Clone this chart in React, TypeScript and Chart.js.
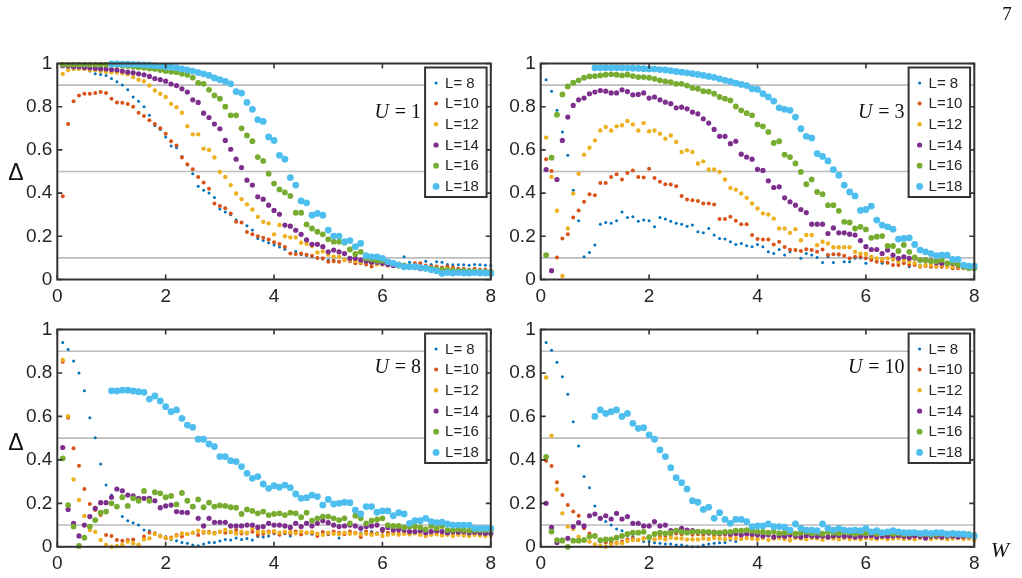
import { useEffect, useRef } from "react";
import { Chart, registerables } from "chart.js";

Chart.register(...registerables);

// Disorder strength W (x axis)
const W = [
  0.1, 0.2, 0.3, 0.4, 0.5, 0.6, 0.7, 0.8, 0.9, 1.0,
  1.1, 1.2, 1.3, 1.4, 1.5, 1.6, 1.7, 1.8, 1.9, 2.0,
  2.1, 2.2, 2.3, 2.4, 2.5, 2.6, 2.7, 2.8, 2.9, 3.0,
  3.1, 3.2, 3.3, 3.4, 3.5, 3.6, 3.7, 3.8, 3.9, 4.0,
  4.1, 4.2, 4.3, 4.4, 4.5, 4.6, 4.7, 4.8, 4.9, 5.0,
  5.1, 5.2, 5.3, 5.4, 5.5, 5.6, 5.7, 5.8, 5.9, 6.0,
  6.1, 6.2, 6.3, 6.4, 6.5, 6.6, 6.7, 6.8, 6.9, 7.0,
  7.1, 7.2, 7.3, 7.4, 7.5, 7.6, 7.7, 7.8, 7.9, 8.0,
];

const SIZES = ["L= 8", "L=10", "L=12", "L=14", "L=16", "L=18"];
const COLORS = ["#0072BD", "#D95319", "#EDB120", "#7E2F8E", "#77AC30", "#4DBEEE"];
const RADII = [1.5, 2, 2.2, 2.6, 2.9, 3.4];
const THRESHOLDS = [0.1, 0.5, 0.9];
const X_TICKS = [0, 2, 4, 6, 8];
const Y_TICKS = [0, 0.2, 0.4, 0.6, 0.8, 1];

// ---- U = 1 ----
const u1_L8 = [
  0.99, 0.988, 0.985, 0.98, 0.975, 0.965, 0.952, 0.949, 0.944, 0.93,
  0.915, 0.9, 0.878, 0.845, 0.825, 0.8, 0.76, 0.713, 0.695, 0.66,
  0.618, 0.61, 0.57, 0.53, 0.49, 0.432, 0.413, 0.4, 0.38, 0.326,
  0.313, 0.3, 0.275, 0.265, 0.249, 0.229, 0.19, 0.18, 0.17, 0.16,
  0.15, 0.14, 0.12, 0.13, 0.115, 0.11, 0.105, 0.1, 0.095, 0.09,
  0.092, 0.085, 0.09, 0.085, 0.08, 0.085, 0.09, 0.09, 0.095, 0.09,
  0.085, 0.08, 0.075, 0.105, 0.08, 0.075, 0.07, 0.085, 0.07, 0.082,
  0.08, 0.07, 0.068, 0.068, 0.068, 0.066, 0.07, 0.068, 0.066, 0.065,
];
const u1_L10 = [
  0.385, 0.72, 0.825, 0.852, 0.86, 0.86, 0.863, 0.868, 0.863, 0.837,
  0.82, 0.818, 0.813, 0.8, 0.772, 0.757, 0.737, 0.72, 0.7, 0.675,
  0.64, 0.62, 0.565, 0.533, 0.51, 0.475, 0.449, 0.42, 0.352, 0.34,
  0.33, 0.306, 0.267, 0.264, 0.22, 0.209, 0.2, 0.193, 0.185, 0.173,
  0.164, 0.15, 0.12, 0.118, 0.12, 0.115, 0.11, 0.1, 0.098, 0.082,
  0.085, 0.082, 0.09, 0.085, 0.075, 0.075, 0.07, 0.06, 0.08, 0.075,
  0.075, 0.07, 0.07, 0.06, 0.06, 0.075, 0.075, 0.065, 0.06, 0.06,
  0.055, 0.06, 0.055, 0.05, 0.05, 0.045, 0.05, 0.045, 0.045, 0.04,
];
const u1_L12 = [
  0.952, 0.97, 0.975, 0.975, 0.975, 0.97, 0.97, 0.965, 0.962, 0.96,
  0.958, 0.955, 0.95, 0.937, 0.925, 0.918, 0.898, 0.875, 0.86, 0.845,
  0.813, 0.798, 0.772, 0.71, 0.672, 0.672, 0.606, 0.6, 0.565, 0.498,
  0.475, 0.437, 0.398, 0.372, 0.348, 0.324, 0.29, 0.267, 0.26, 0.209,
  0.252, 0.2, 0.195, 0.195, 0.17, 0.165, 0.155, 0.125, 0.13, 0.115,
  0.105, 0.105, 0.09, 0.09, 0.085, 0.08, 0.08, 0.075, 0.07, 0.07,
  0.065, 0.065, 0.06, 0.06, 0.055, 0.055, 0.05, 0.05, 0.05, 0.05,
  0.045, 0.045, 0.045, 0.04, 0.04, 0.04, 0.04, 0.04, 0.035, 0.035,
];
const u1_L14 = [
  0.99, 0.988, 0.985, 0.985, 0.982, 0.98, 0.978, 0.976, 0.975, 0.972,
  0.97, 0.965, 0.96, 0.957, 0.952, 0.948, 0.94, 0.93, 0.925, 0.918,
  0.905, 0.898, 0.883, 0.868, 0.832, 0.82, 0.77, 0.75, 0.72, 0.698,
  0.644, 0.603, 0.557, 0.518, 0.46, 0.437, 0.383, 0.372, 0.344, 0.32,
  0.302, 0.252, 0.247, 0.228, 0.209, 0.183, 0.163, 0.163, 0.152, 0.128,
  0.136, 0.128, 0.12, 0.098, 0.098, 0.09, 0.085, 0.08, 0.08, 0.075,
  0.07, 0.065, 0.065, 0.06, 0.06, 0.055, 0.05, 0.05, 0.05, 0.045,
  0.045, 0.04, 0.04, 0.04, 0.038, 0.038, 0.036, 0.036, 0.035, 0.035,
];
const u1_L16 = [
  0.995, 0.995, 0.995, 0.995, 0.995, 0.995, 0.995, 0.995, 0.995, 0.995,
  0.993, 0.99, 0.988, 0.985, 0.983, 0.98, 0.977, 0.975, 0.97, 0.965,
  0.962, 0.96, 0.952, 0.948, 0.935, 0.91, 0.906, 0.878, 0.852, 0.837,
  0.8, 0.76, 0.76, 0.7, 0.667, 0.64, 0.567, 0.549, 0.49, 0.444,
  0.417, 0.403, 0.387, 0.309, 0.309, 0.255, 0.236, 0.221, 0.209, 0.186,
  0.175, 0.175, 0.17, 0.139, 0.118, 0.128, 0.098, 0.093, 0.087, 0.087,
  0.08, 0.075, 0.07, 0.065, 0.062, 0.06, 0.055, 0.052, 0.05, 0.048,
  0.045, 0.045, 0.042, 0.04, 0.04, 0.038, 0.038, 0.036, 0.035, 0.035,
];
const u1_L18 = [
  0.998, 0.998, 0.997, 0.997, 0.996, 0.995, 0.994, 0.992, 0.99, 0.988, 0.985,
  0.983, 0.98, 0.975, 0.97, 0.965, 0.958, 0.952, 0.945, 0.933, 0.925,
  0.917, 0.906, 0.87, 0.863, 0.82, 0.788, 0.74, 0.732, 0.66, 0.644,
  0.575, 0.557, 0.472, 0.437, 0.364, 0.355, 0.298, 0.306, 0.298, 0.229,
  0.201, 0.201, 0.175, 0.18, 0.152, 0.167, 0.11, 0.105, 0.105, 0.098,
  0.082, 0.075, 0.067, 0.059, 0.059, 0.059, 0.055, 0.052, 0.045, 0.04,
  0.028, 0.032, 0.03, 0.032, 0.03, 0.03, 0.032, 0.03, 0.03, 0.028,
];

// ---- U = 3 ----
const u3_L8 = [
  0.925, 0.872, 0.783, 0.683, 0.575, 0.413, 0.272, 0.105, 0.125, 0.16,
  0.256, 0.264, 0.26, 0.272, 0.313, 0.287, 0.29, 0.27, 0.275, 0.272,
  0.244, 0.287, 0.28, 0.27, 0.26, 0.256, 0.247, 0.252, 0.221, 0.216,
  0.236, 0.206, 0.19, 0.187, 0.175, 0.162, 0.167, 0.156, 0.152, 0.162,
  0.152, 0.128, 0.12, 0.139, 0.113, 0.128, 0.136, 0.098, 0.12, 0.113,
  0.102, 0.079, 0.105, 0.079, 0.113, 0.082, 0.082, 0.098, 0.1, 0.075,
  0.098, 0.09, 0.075, 0.098, 0.09, 0.075, 0.093, 0.059, 0.075, 0.067,
  0.075, 0.075, 0.067, 0.075, 0.067, 0.059, 0.062, 0.059, 0.062, 0.056,
];
const u3_L10 = [
  0.557, 0.502, 0.102, 0.19, 0.21, 0.287, 0.32, 0.36, 0.395, 0.39,
  0.447, 0.447, 0.475, 0.487, 0.463, 0.493, 0.505, 0.475, 0.472, 0.513,
  0.47, 0.452, 0.441, 0.44, 0.432, 0.387, 0.37, 0.367, 0.364, 0.352,
  0.352, 0.347, 0.28, 0.28, 0.29, 0.272, 0.256, 0.256, 0.206, 0.187,
  0.185, 0.185, 0.162, 0.175, 0.15, 0.138, 0.136, 0.132, 0.14, 0.136,
  0.128, 0.139, 0.113, 0.117, 0.117, 0.11, 0.098, 0.105, 0.105, 0.098,
  0.09, 0.082, 0.085, 0.078, 0.067, 0.067, 0.075, 0.067, 0.067, 0.059,
  0.062, 0.059, 0.059, 0.059, 0.059, 0.052, 0.052, 0.052, 0.052, 0.047,
];
const u3_L12 = [
  0.657, 0.475, 0.318, 0.016, 0.236, 0.398, 0.49, 0.578, 0.61, 0.644,
  0.69, 0.706, 0.69, 0.709, 0.714, 0.734, 0.718, 0.69, 0.724, 0.686,
  0.69, 0.675, 0.652, 0.667, 0.637, 0.59, 0.598, 0.59, 0.537, 0.547,
  0.509, 0.509, 0.498, 0.463, 0.424, 0.416, 0.398, 0.378, 0.352, 0.329,
  0.306, 0.301, 0.282, 0.236, 0.236, 0.216, 0.233, 0.182, 0.206, 0.206,
  0.159, 0.175, 0.167, 0.149, 0.149, 0.149, 0.149, 0.128, 0.12, 0.118,
  0.105, 0.098, 0.093, 0.098, 0.093, 0.082, 0.09, 0.082, 0.075, 0.062,
  0.067, 0.067, 0.062, 0.067, 0.059, 0.059, 0.059, 0.059, 0.056, 0.056,
];
const u3_L14 = [
  0.509, 0.041, 0.463, 0.644, 0.752, 0.806, 0.832, 0.84, 0.86, 0.868,
  0.875, 0.872, 0.864, 0.864, 0.878, 0.87, 0.855, 0.857, 0.864, 0.84,
  0.845, 0.832, 0.821, 0.814, 0.795, 0.798, 0.79, 0.775, 0.767, 0.744,
  0.724, 0.695, 0.663, 0.663, 0.629, 0.64, 0.58, 0.567, 0.557, 0.51,
  0.505, 0.457, 0.426, 0.429, 0.378, 0.36, 0.344, 0.324, 0.31, 0.256,
  0.256, 0.256, 0.213, 0.239, 0.216, 0.216, 0.21, 0.206, 0.18, 0.152,
  0.139, 0.139, 0.12, 0.136, 0.113, 0.098, 0.105, 0.098, 0.1, 0.09,
  0.09, 0.087, 0.078, 0.075, 0.075, 0.075, 0.067, 0.067, 0.062, 0.059,
];
const u3_L16 = [
  0.113, 0.564, 0.763, 0.857, 0.894, 0.911, 0.922, 0.934, 0.94, 0.942,
  0.945, 0.948, 0.95, 0.948, 0.945, 0.948, 0.942, 0.937, 0.937, 0.934,
  0.929, 0.922, 0.917, 0.914, 0.906, 0.906, 0.898, 0.887, 0.883, 0.872,
  0.87, 0.86, 0.845, 0.837, 0.829, 0.801, 0.783, 0.77, 0.76, 0.718,
  0.709, 0.683, 0.632, 0.64, 0.578, 0.567, 0.537, 0.498, 0.441, 0.463,
  0.405, 0.395, 0.344, 0.344, 0.318, 0.267, 0.264, 0.236, 0.244, 0.232,
  0.193, 0.198, 0.201, 0.155, 0.155, 0.132, 0.16, 0.128, 0.102, 0.09,
  0.09, 0.085, 0.085, 0.09, 0.075, 0.079, 0.07, 0.059, 0.052, 0.052,
];
const u3_L18 = [
  0.98, 0.98, 0.98, 0.98, 0.98, 0.98, 0.979, 0.978, 0.977, 0.976, 0.975,
  0.974, 0.972, 0.97, 0.967, 0.963, 0.96, 0.957, 0.953, 0.949, 0.945,
  0.94, 0.936, 0.929, 0.922, 0.917, 0.909, 0.903, 0.898, 0.883, 0.88,
  0.86, 0.845, 0.826, 0.795, 0.788, 0.783, 0.752, 0.698, 0.663, 0.655,
  0.583, 0.57, 0.549, 0.509, 0.483, 0.437, 0.405, 0.387, 0.32, 0.324,
  0.34, 0.275, 0.252, 0.244, 0.233, 0.187, 0.19, 0.193, 0.162, 0.136,
  0.128, 0.12, 0.11, 0.113, 0.113, 0.093, 0.093, 0.067, 0.062, 0.062,
];

// ---- U = 8 ----
const u8_L8 = [
  0.94, 0.908, 0.855, 0.8, 0.718, 0.594, 0.502, 0.381, 0.284, 0.238,
  0.188, 0.139, 0.12, 0.111, 0.1, 0.077, 0.074, 0.065, 0.054, 0.047,
  0.034, 0.028, 0.02, 0.016, 0.008, 0.005, 0.013, 0.02, 0.02, 0.027,
  0.034, 0.031, 0.04, 0.034, 0.038, 0.031, 0.047, 0.045, 0.05, 0.06,
  0.055, 0.06, 0.05, 0.06, 0.055, 0.06, 0.058, 0.06, 0.065, 0.055,
  0.062, 0.04, 0.06, 0.065, 0.06, 0.065, 0.06, 0.07, 0.065, 0.055,
  0.065, 0.06, 0.068, 0.065, 0.062, 0.07, 0.065, 0.07, 0.065, 0.068,
  0.07, 0.065, 0.07, 0.068, 0.07, 0.065, 0.068, 0.07, 0.065, 0.068,
];
const u8_L10 = [
  0.852, 0.594, 0.453, 0.373, 0.266, 0.197, 0.169, 0.146, 0.054, 0.05,
  0.031, 0.028, 0.031, 0.034, 0.005, 0.047, 0.065, 0.061, 0.047, 0.039,
  0.043, 0.054, 0.047, 0.059, 0.065, 0.054, 0.065, 0.069, 0.065, 0.069,
  0.065, 0.067, 0.077, 0.061, 0.061, 0.069, 0.054, 0.06, 0.07, 0.065,
  0.055, 0.065, 0.06, 0.07, 0.058, 0.065, 0.062, 0.05, 0.068, 0.06,
  0.07, 0.065, 0.058, 0.07, 0.065, 0.045, 0.07, 0.062, 0.06, 0.07,
  0.065, 0.068, 0.06, 0.065, 0.06, 0.07, 0.058, 0.062, 0.06, 0.065,
  0.06, 0.058, 0.062, 0.06, 0.058, 0.055, 0.06, 0.058, 0.055, 0.06,
];
const u8_L12 = [
  0.86, 0.601, 0.31, 0.215, 0.142, 0.077, 0.069, 0.031, 0.008, 0.0,
  0.004, 0.008, 0.024, 0.016, 0.01, 0.034, 0.039, 0.059, 0.05, 0.042,
  0.039, 0.051, 0.061, 0.059, 0.065, 0.074, 0.069, 0.065, 0.061, 0.069,
  0.077, 0.069, 0.061, 0.069, 0.065, 0.085, 0.069, 0.07, 0.065, 0.072,
  0.065, 0.07, 0.068, 0.062, 0.07, 0.065, 0.068, 0.06, 0.055, 0.065,
  0.06, 0.058, 0.065, 0.06, 0.062, 0.058, 0.06, 0.055, 0.06, 0.05,
  0.055, 0.06, 0.055, 0.06, 0.058, 0.062, 0.055, 0.05, 0.055, 0.058,
  0.052, 0.055, 0.05, 0.055, 0.052, 0.05, 0.055, 0.052, 0.05, 0.052,
];
const u8_L14 = [
  0.457, 0.172, 0.108, 0.05, 0.1, 0.139, 0.177, 0.203, 0.203, 0.228,
  0.266, 0.258, 0.238, 0.234, 0.223, 0.223, 0.223, 0.212, 0.18, 0.188,
  0.192, 0.162, 0.159, 0.157, 0.185, 0.131, 0.096, 0.131, 0.113, 0.113,
  0.113, 0.096, 0.096, 0.096, 0.1, 0.1, 0.089, 0.093, 0.108, 0.1,
  0.1, 0.096, 0.089, 0.108, 0.093, 0.108, 0.096, 0.108, 0.12, 0.111,
  0.1, 0.093, 0.096, 0.1, 0.096, 0.085, 0.093, 0.096, 0.1, 0.08,
  0.089, 0.077, 0.08, 0.077, 0.07, 0.07, 0.074, 0.065, 0.07, 0.074,
  0.07, 0.065, 0.07, 0.068, 0.07, 0.065, 0.068, 0.065, 0.062, 0.062,
];
const u8_L16 = [
  0.407, 0.192, 0.093, 0.004, 0.042, 0.093, 0.123, 0.157, 0.162, 0.2,
  0.185, 0.228, 0.188, 0.223, 0.212, 0.257, 0.212, 0.251, 0.246, 0.228,
  0.234, 0.195, 0.248, 0.212, 0.185, 0.218, 0.182, 0.203, 0.185, 0.19,
  0.188, 0.182, 0.18, 0.151, 0.172, 0.165, 0.154, 0.162, 0.146, 0.151,
  0.154, 0.146, 0.157, 0.154, 0.136, 0.157, 0.12, 0.131, 0.139, 0.139,
  0.131, 0.123, 0.131, 0.108, 0.143, 0.131, 0.108, 0.12, 0.126, 0.131,
  0.1, 0.096, 0.096, 0.089, 0.093, 0.093, 0.089, 0.08, 0.096, 0.085,
  0.096, 0.077, 0.077, 0.08, 0.077, 0.074, 0.077, 0.077, 0.077, 0.077,
];
const u8_L18 = [
  0.718, 0.717, 0.721, 0.721, 0.717, 0.714, 0.711, 0.68, 0.694, 0.671, 0.645,
  0.622, 0.63, 0.591, 0.56, 0.55, 0.495, 0.495, 0.473, 0.461, 0.415,
  0.415, 0.396, 0.392, 0.369, 0.338, 0.315, 0.323, 0.289, 0.269, 0.281,
  0.274, 0.284, 0.272, 0.243, 0.223, 0.226, 0.238, 0.231, 0.192, 0.218,
  0.197, 0.2, 0.205, 0.203, 0.169, 0.151, 0.185, 0.185, 0.159, 0.165,
  0.165, 0.143, 0.157, 0.151, 0.108, 0.12, 0.12, 0.131, 0.116, 0.111,
  0.113, 0.105, 0.1, 0.1, 0.1, 0.1, 0.085, 0.085, 0.085, 0.085,
];

// ---- U = 10 ----
const u10_L8 = [
  0.94, 0.905, 0.849, 0.783, 0.702, 0.576, 0.464, 0.323, 0.272, 0.188,
  0.136, 0.116, 0.1, 0.082, 0.074, 0.05, 0.047, 0.034, 0.024, 0.024,
  0.019, 0.016, 0.013, 0.013, 0.008, 0.008, 0.004, 0.0, 0.0, 0.008,
  0.013, 0.016, 0.019, 0.02, 0.031, 0.024, 0.034, 0.042, 0.039, 0.047,
  0.05, 0.055, 0.05, 0.058, 0.06, 0.055, 0.062, 0.058, 0.06, 0.062,
  0.058, 0.06, 0.062, 0.058, 0.062, 0.06, 0.058, 0.062, 0.06, 0.055,
  0.075, 0.058, 0.06, 0.068, 0.062, 0.058, 0.06, 0.062, 0.058, 0.06,
  0.058, 0.06, 0.055, 0.058, 0.06, 0.055, 0.062, 0.058, 0.055, 0.06,
];
const u10_L10 = [
  0.396, 0.372, 0.297, 0.238, 0.192, 0.162, 0.143, 0.085, 0.061, 0.05,
  0.024, 0.02, 0.016, 0.019, 0.024, 0.034, 0.039, 0.031, 0.039, 0.039,
  0.034, 0.047, 0.05, 0.054, 0.061, 0.058, 0.062, 0.055, 0.058, 0.055,
  0.06, 0.052, 0.058, 0.055, 0.05, 0.055, 0.052, 0.058, 0.05, 0.055,
  0.05, 0.055, 0.048, 0.052, 0.055, 0.05, 0.045, 0.052, 0.05, 0.055,
  0.048, 0.052, 0.05, 0.045, 0.052, 0.05, 0.048, 0.052, 0.05, 0.045,
  0.05, 0.052, 0.048, 0.05, 0.052, 0.048, 0.05, 0.045, 0.05, 0.048,
  0.05, 0.048, 0.052, 0.048, 0.05, 0.048, 0.045, 0.05, 0.048, 0.05,
];
const u10_L12 = [
  0.779, 0.511, 0.264, 0.154, 0.093, 0.082, 0.047, 0.034, 0.024, 0.011,
  0.004, 0.0, 0.008, 0.016, 0.016, 0.027, 0.031, 0.031, 0.036, 0.047,
  0.034, 0.039, 0.034, 0.042, 0.039, 0.038, 0.034, 0.034, 0.034, 0.038,
  0.036, 0.04, 0.038, 0.035, 0.04, 0.038, 0.036, 0.04, 0.038, 0.035,
  0.04, 0.032, 0.038, 0.04, 0.036, 0.03, 0.04, 0.038, 0.035, 0.04,
  0.038, 0.032, 0.04, 0.038, 0.035, 0.04, 0.036, 0.038, 0.035, 0.04,
  0.038, 0.036, 0.04, 0.035, 0.038, 0.04, 0.036, 0.038, 0.035, 0.04,
  0.038, 0.036, 0.04, 0.038, 0.035, 0.038, 0.04, 0.036, 0.038, 0.03,
];
const u10_L14 = [
  0.2, 0.089, 0.02, 0.031, 0.039, 0.093, 0.111, 0.096, 0.143, 0.151,
  0.131, 0.143, 0.128, 0.154, 0.128, 0.139, 0.108, 0.108, 0.096, 0.096,
  0.116, 0.096, 0.1, 0.074, 0.074, 0.085, 0.077, 0.074, 0.07, 0.068,
  0.065, 0.068, 0.06, 0.065, 0.058, 0.062, 0.055, 0.06, 0.058, 0.055,
  0.05, 0.055, 0.045, 0.052, 0.048, 0.055, 0.05, 0.045, 0.052, 0.05,
  0.048, 0.05, 0.045, 0.05, 0.052, 0.048, 0.05, 0.045, 0.048, 0.05,
  0.052, 0.045, 0.05, 0.048, 0.05, 0.052, 0.048, 0.045, 0.05, 0.048,
  0.04, 0.048, 0.05, 0.045, 0.048, 0.05, 0.045, 0.048, 0.05, 0.045,
];
const u10_L16 = [
  0.414, 0.07, 0.031, 0.028, 0.0, 0.028, 0.028, 0.031, 0.047, 0.05,
  0.031, 0.034, 0.034, 0.042, 0.05, 0.059, 0.065, 0.065, 0.069, 0.044,
  0.059, 0.065, 0.062, 0.065, 0.074, 0.069, 0.065, 0.069, 0.069, 0.069,
  0.069, 0.065, 0.065, 0.069, 0.069, 0.074, 0.074, 0.077, 0.074, 0.069,
  0.068, 0.065, 0.07, 0.062, 0.065, 0.068, 0.06, 0.065, 0.068, 0.062,
  0.065, 0.06, 0.068, 0.065, 0.062, 0.068, 0.065, 0.06, 0.065, 0.062,
  0.065, 0.06, 0.062, 0.065, 0.06, 0.062, 0.058, 0.06, 0.062, 0.058,
  0.06, 0.055, 0.058, 0.06, 0.055, 0.058, 0.06, 0.055, 0.058, 0.055,
];
const u10_L18 = [
  0.6, 0.63, 0.614, 0.622, 0.63, 0.6, 0.614, 0.568, 0.545, 0.548, 0.515,
  0.495, 0.446, 0.415, 0.364, 0.318, 0.295, 0.266, 0.212, 0.205, 0.172,
  0.182, 0.131, 0.157, 0.126, 0.108, 0.126, 0.126, 0.116, 0.093, 0.096,
  0.096, 0.105, 0.093, 0.093, 0.09, 0.077, 0.105, 0.085, 0.077, 0.077,
  0.074, 0.105, 0.085, 0.077, 0.085, 0.077, 0.074, 0.077, 0.074, 0.085,
  0.069, 0.074, 0.065, 0.069, 0.074, 0.069, 0.065, 0.065, 0.065, 0.062,
  0.065, 0.062, 0.065, 0.065, 0.059, 0.062, 0.059, 0.059, 0.055, 0.05,
];

const SANS = "'Liberation Sans', Arial, sans-serif";
const SERIF = "'Liberation Serif', 'Times New Roman', serif";
const INK = "#262626";
const FRAME = "#333333";

type Extra = { text: string; x: number; y: number; font: string };
type Panel = {
  left: number;
  top: number;
  width: number;
  height: number;
  padTop: number;
  padRight: number;
  yAxisWidth: number;
  xAxisHeight: number;
  uValue: string;
  uBaseline: number;
  series: number[][];
  extras: Extra[];
};

const PANELS: Panel[] = [
  {
    left: 0, top: 0, width: 505, height: 310,
    padTop: 63.5, padRight: 14.2, yAxisWidth: 57.3, xAxisHeight: 30.5,
    uValue: "1", uBaseline: 118,
    series: [u1_L8, u1_L10, u1_L12, u1_L14, u1_L16, u1_L18],
    extras: [{ text: "Δ", x: 16, y: 180, font: `23px ${SANS}` }],
  },
  {
    left: 505, top: 0, width: 517, height: 310,
    padTop: 63.5, padRight: 47.7, yAxisWidth: 35.7, xAxisHeight: 30.5,
    uValue: "3", uBaseline: 118,
    series: [u3_L8, u3_L10, u3_L12, u3_L14, u3_L16, u3_L18],
    extras: [{ text: "7", x: 502, y: 20, font: `19px ${SERIF}` }],
  },
  {
    left: 0, top: 310, width: 505, height: 268,
    padTop: 19.5, padRight: 14.2, yAxisWidth: 57.3, xAxisHeight: 31.2,
    uValue: "8", uBaseline: 63,
    series: [u8_L8, u8_L10, u8_L12, u8_L14, u8_L16, u8_L18],
    extras: [{ text: "Δ", x: 16, y: 139.5, font: `23px ${SANS}` }],
  },
  {
    left: 505, top: 310, width: 517, height: 268,
    padTop: 19.5, padRight: 47.7, yAxisWidth: 35.7, xAxisHeight: 31.2,
    uValue: "10", uBaseline: 63,
    series: [u10_L8, u10_L10, u10_L12, u10_L14, u10_L16, u10_L18],
    extras: [{ text: "W", x: 495, y: 247, font: `italic 22px ${SERIF}` }],
  },
];

function makeDecorations(panel: Panel) {
  return {
    id: "matlabStyle",
    beforeDatasetsDraw(chart: any) {
      const { ctx, chartArea: a, scales } = chart;
      ctx.save();
      ctx.strokeStyle = "#bdbdbd";
      ctx.lineWidth = 1.6;
      for (const t of THRESHOLDS) {
        const y = scales.y.getPixelForValue(t);
        ctx.beginPath();
        ctx.moveTo(a.left, y);
        ctx.lineTo(a.right, y);
        ctx.stroke();
      }
      ctx.restore();
    },
    afterDraw(chart: any) {
      const { ctx, chartArea: a, scales } = chart;
      ctx.save();

      // Axes box with inward ticks on every side
      ctx.strokeStyle = FRAME;
      ctx.lineWidth = 2;
      ctx.strokeRect(a.left, a.top, a.right - a.left, a.bottom - a.top);
      ctx.lineWidth = 1.6;
      const tl = 5;
      ctx.beginPath();
      for (const t of X_TICKS) {
        const x = scales.x.getPixelForValue(t);
        ctx.moveTo(x, a.bottom);
        ctx.lineTo(x, a.bottom - tl);
        ctx.moveTo(x, a.top);
        ctx.lineTo(x, a.top + tl);
      }
      for (const t of Y_TICKS) {
        const y = scales.y.getPixelForValue(t);
        ctx.moveTo(a.left, y);
        ctx.lineTo(a.left + tl, y);
        ctx.moveTo(a.right, y);
        ctx.lineTo(a.right - tl, y);
      }
      ctx.stroke();

      // Legend box
      const lw = 61.5;
      const lh = 129.5;
      const lx = a.right - 4.2 - lw;
      const ly = a.top + 4;
      ctx.fillStyle = "#ffffff";
      ctx.fillRect(lx, ly, lw, lh);
      ctx.strokeStyle = FRAME;
      ctx.lineWidth = 2;
      ctx.strokeRect(lx, ly, lw, lh);
      ctx.font = `15px ${SANS}`;
      ctx.textBaseline = "middle";
      ctx.textAlign = "left";
      SIZES.forEach((name, i) => {
        const cy = ly + 15.4 + i * 20.7;
        ctx.fillStyle = COLORS[i];
        ctx.beginPath();
        ctx.arc(lx + 11, cy, RADII[i], 0, Math.PI * 2);
        ctx.fill();
        ctx.fillStyle = INK;
        ctx.fillText(name, lx + 20, cy + 0.5);
      });

      // U = ... annotation, right-aligned just left of the legend
      ctx.fillStyle = "#111111";
      ctx.textBaseline = "alphabetic";
      ctx.font = `italic 20px ${SERIF}`;
      const uW = ctx.measureText("U").width;
      ctx.font = `20px ${SERIF}`;
      const rest = " = " + panel.uValue;
      const rW = ctx.measureText(rest).width;
      const startX = lx - 5 - (uW + rW);
      ctx.font = `italic 20px ${SERIF}`;
      ctx.fillText("U", startX, panel.uBaseline);
      ctx.font = `20px ${SERIF}`;
      ctx.fillText(rest, startX + uW + 1, panel.uBaseline);

      // Axis symbols and page number
      ctx.textAlign = "center";
      for (const e of panel.extras) {
        ctx.font = e.font;
        ctx.fillStyle = "#111111";
        ctx.fillText(e.text, e.x, e.y);
      }
      ctx.restore();
    },
  };
}

function PanelChart({ panel }: { panel: Panel }) {
  const ref = useRef<HTMLCanvasElement | null>(null);

  useEffect(() => {
    if (!ref.current) return;
    const datasets = panel.series.map((vals, i) => {
      const xs = W.slice(W.length - vals.length);
      return {
        label: SIZES[i],
        data: vals.map((y, j) => ({ x: xs[j], y })),
        backgroundColor: COLORS[i],
        borderWidth: 0,
        pointRadius: RADII[i],
        pointHoverRadius: RADII[i],
        pointStyle: "circle" as const,
        showLine: false,
        clip: false as const,
        order: SIZES.length - i,
      };
    });

    const chart = new Chart(ref.current, {
      type: "scatter",
      data: { datasets },
      options: {
        animation: false,
        responsive: false,
        maintainAspectRatio: false,
        events: [],
        layout: { padding: { left: 0, top: panel.padTop, right: panel.padRight, bottom: 0 } },
        plugins: { legend: { display: false }, tooltip: { enabled: false } },
        scales: {
          x: {
            type: "linear",
            min: 0,
            max: 8,
            grid: { display: false, drawTicks: false },
            border: { display: false },
            ticks: {
              stepSize: 2,
              autoSkip: false,
              maxRotation: 0,
              padding: 6,
              color: INK,
              font: { family: SANS, size: 19 },
            },
            afterFit: (s: any) => {
              s.height = panel.xAxisHeight;
            },
          },
          y: {
            type: "linear",
            min: 0,
            max: 1,
            grid: { display: false, drawTicks: false },
            border: { display: false },
            ticks: {
              stepSize: 0.2,
              padding: 5,
              color: INK,
              font: { family: SANS, size: 19 },
              callback: (v: any) => String(Number(Number(v).toFixed(1))),
            },
            afterFit: (s: any) => {
              s.width = panel.yAxisWidth;
            },
          },
        },
      },
      plugins: [makeDecorations(panel)],
    });
    return () => chart.destroy();
  }, [panel]);

  return (
    <canvas
      ref={ref}
      width={panel.width}
      height={panel.height}
      style={{
        position: "absolute",
        left: panel.left,
        top: panel.top,
        width: panel.width,
        height: panel.height,
        display: "block",
      }}
    />
  );
}

export default function App() {
  return (
    <div
      style={{
        position: "absolute",
        left: 0,
        top: 0,
        width: 1022,
        height: 578,
        background: "#ffffff",
        overflow: "hidden",
      }}
    >
      {PANELS.map((p, i) => (
        <PanelChart key={i} panel={p} />
      ))}
    </div>
  );
}
